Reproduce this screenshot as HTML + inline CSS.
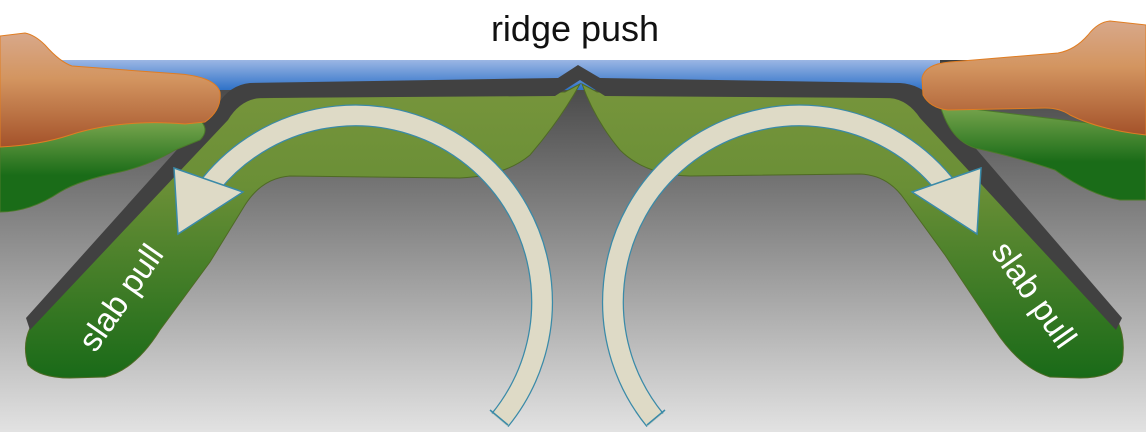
<!DOCTYPE html>
<html><head><meta charset="utf-8"><style>
html,body{margin:0;padding:0;background:#fff;}
svg{display:block;}
</style></head><body>
<svg width="1146" height="432" viewBox="0 0 1146 432" xmlns="http://www.w3.org/2000/svg">
<defs>
<linearGradient id="bg" x1="0" y1="0" x2="0" y2="1">
<stop offset="0" stop-color="#3e3e3e"/><stop offset="1" stop-color="#e2e2e2"/></linearGradient>
<linearGradient id="sea" x1="0" y1="0" x2="0" y2="1">
<stop offset="0" stop-color="#9bb6e4"/><stop offset="1" stop-color="#2f72c8"/></linearGradient>
<linearGradient id="brown" x1="0" y1="0" x2="0" y2="1">
<stop offset="0" stop-color="#d8a88a"/><stop offset="0.4" stop-color="#d39560"/><stop offset="1" stop-color="#a4522a"/></linearGradient>
<linearGradient id="cgreen" x1="0" y1="0" x2="0" y2="1">
<stop offset="0" stop-color="#7aa64e"/><stop offset="0.6" stop-color="#1a6c18"/><stop offset="1" stop-color="#1a6c18"/></linearGradient>
<linearGradient id="slab" x1="0" y1="0" x2="0" y2="1">
<stop offset="0" stop-color="#77953c"/><stop offset="0.35" stop-color="#6a8f36"/><stop offset="1" stop-color="#196a18"/></linearGradient>
</defs>
<rect x="0" y="60" width="1146" height="372" fill="url(#bg)"/>
<rect x="60" y="60" width="880" height="30" fill="url(#sea)"/>
<path d="M580,84 L565,92 L250,98 Q230,102 215,125 L30,328 Q22,345 28,365 Q40,378 70,378 L105,377 Q135,370 160,330 L210,262 L245,205 Q262,178 290,176 L460,178 Q505,176 530,155 Q560,120 580,84 Z" fill="url(#slab)" stroke="#4f6a25" stroke-width="1"/>
<path d="M582,84 L597,92 L900,98 Q920,102 935,125 L1118,322 Q1126,340 1122,362 Q1112,378 1080,378 L1050,377 Q1020,368 995,330 L945,255 L905,200 Q888,175 860,174 L690,176 Q645,175 620,150 Q595,120 582,84 Z" fill="url(#slab)" stroke="#4f6a25" stroke-width="1"/>
<path d="M578,65 L558,78 L250,83 Q230,85 218,104 L26,318 L30,330 L228,120 Q240,100 260,98 L555,96 L580,80 L605,96 L890,98 Q908,100 920,118 L1116,330 L1122,318 L934,100 Q920,84 900,83 L600,78 Z" fill="#414141"/>
<path d="M0,125 L200,120 Q210,130 200,140 L175,150 Q150,165 120,172 Q80,180 60,192 Q30,212 0,212 Z" fill="url(#cgreen)" stroke="#4c7a2a" stroke-width="1"/>
<path d="M0,36 L25,33 Q35,35 45,45 Q60,62 72,66 L180,74 Q215,77 220,92 Q222,110 205,122 L185,124 Q160,122 140,123 Q100,125 70,135 Q40,145 0,147 Z" fill="url(#brown)" stroke="#e07d22" stroke-width="1"/>
<path d="M1146,130 L940,105 Q950,140 975,148 Q1020,158 1055,170 Q1090,195 1120,200 L1146,200 Z" fill="url(#cgreen)" stroke="#4c7a2a" stroke-width="1"/>
<path d="M1146,25 L1110,21 Q1098,22 1088,35 Q1075,50 1058,53 L950,62 Q925,64 922,78 L923,95 Q930,108 948,110 L1045,108 Q1060,108 1070,115 Q1100,130 1146,135 Z" fill="url(#brown)" stroke="#e07d22" stroke-width="1"/>
<g id="arr">
<path d="M500,420 A185,185 0 1 0 211,184" fill="none" stroke="#3a8aa8" stroke-width="22"/>
<path d="M500,420 A185,185 0 1 0 211,184" fill="none" stroke="#dedac6" stroke-width="19.5"/>
<line x1="490" y1="410" x2="508" y2="425" stroke="#3a8aa8" stroke-width="1.5"/>
<polygon points="174,168 243,192 178,234" fill="#dedac6" stroke="#3a8aa8" stroke-width="1.5"/>
</g>
<use href="#arr" transform="translate(1155,0) scale(-1,1)"/>
<text x="575" y="41" text-anchor="middle" font-family="Liberation Sans, sans-serif" font-size="36" fill="#111">ridge push</text>
<text x="0" y="0" text-anchor="middle" font-family="Liberation Sans, sans-serif" font-size="33" fill="#fff" transform="translate(130,304) rotate(-55)">slab pull</text>
<text x="0" y="0" text-anchor="middle" font-family="Liberation Sans, sans-serif" font-size="33" fill="#fff" transform="translate(1025,301) rotate(55)">slab pull</text>
</svg>
</body></html>
